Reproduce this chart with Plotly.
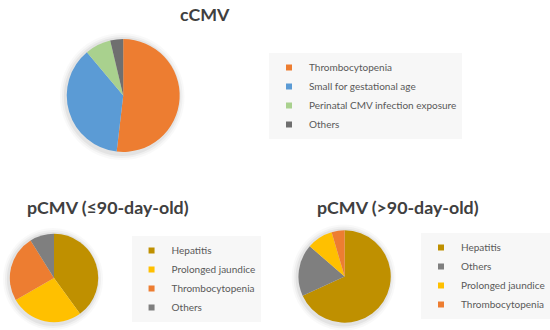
import plotly.graph_objects as go

# cCMV
c_labels = ["Thrombocytopenia", "Small for gestational age", "Perinatal CMV infection exposure", "Others"]
c_values = [14, 10, 2, 1]
c_colors = ["#ED7D31", "#5B9BD5", "#A9D18E", "#6F6F6F"]

# pCMV <=90 days
p1_labels = ["Hepatitis", "Prolonged jaundice", "Thrombocytopenia", "Others"]
p1_values = [18, 12, 11, 4]
p1_colors = ["#BF9000", "#FFC000", "#ED7D31", "#7F7F7F"]

# pCMV >90 days
p2_labels = ["Hepatitis", "Others", "Prolonged jaundice", "Thrombocytopenia"]
p2_values = [15, 4, 2, 1]
p2_colors = ["#BF9000", "#7F7F7F", "#FFC000", "#ED7D31"]

titles = ["cCMV", "pCMV (≤90-day-old)", "pCMV (>90-day-old)"]

W, H = 550, 330

# layout geometry (pixels)
pies = [
    dict(labels=c_labels, values=c_values, colors=c_colors, cx=125.5, cy=95.5, r=57.5, legend="legend"),
    dict(labels=p1_labels, values=p1_values, colors=p1_colors, cx=55, cy=278, r=45, legend="legend2"),
    dict(labels=p2_labels, values=p2_values, colors=p2_colors, cx=351, cy=276.5, r=47, legend="legend3"),
]


def dom(cx, cy, r):
    return dict(x=[(cx - r) / W, (cx + r) / W], y=[1 - (cy + r) / H, 1 - (cy - r) / H])


fig = go.Figure()
shapes = []
for p in pies:
    fig.add_trace(go.Pie(labels=p["labels"], values=p["values"], marker=dict(colors=p["colors"]),
                         sort=False, direction="clockwise", rotation=0, textinfo="none",
                         domain=dom(p["cx"], p["cy"], p["r"]), showlegend=False,
                         hoverinfo="label+percent"))
    # legend entries (small square keys)
    for lab, col in zip(p["labels"], p["colors"]):
        fig.add_trace(go.Scatter(x=[None], y=[None], mode="markers", name=lab,
                                 marker=dict(symbol="square", size=6, color=col),
                                 legend=p["legend"], hoverinfo="skip"))
    # soft shadow
    for k, op in [(6, 0.025), (4, 0.035), (2, 0.05)]:
        rr = p["r"] + k
        shapes.append(dict(type="circle", xref="paper", yref="paper", layer="below",
                           x0=(p["cx"] - rr - 1) / W, x1=(p["cx"] + rr - 1) / W,
                           y0=1 - (p["cy"] + rr + 1) / H, y1=1 - (p["cy"] - rr + 1) / H,
                           fillcolor="black", opacity=op, line=dict(width=0)))

leg_style = dict(bgcolor="#F7F7F7", font=dict(family="Lato", size=10, color="#595959"),
                 xanchor="left", yanchor="top", borderwidth=0, tracegroupgap=0)

ann_font = dict(family="Lato", size=17.8, color="#404040")

fig.update_layout(
    width=W, height=H, margin=dict(l=0, r=0, t=0, b=0),
    paper_bgcolor="white", plot_bgcolor="white",
    xaxis=dict(visible=False), yaxis=dict(visible=False),
    legend=dict(x=274 / W, y=1 - 53 / H, **leg_style),
    legend2=dict(x=134 / W, y=1 - 236 / H, **leg_style),
    legend3=dict(x=429 / W, y=1 - 233 / H, **leg_style),
    shapes=shapes,
    annotations=[
        dict(text="<b>%s</b>" % titles[0], x=209 / W, y=1 - 14 / H, xref="paper", yref="paper",
             showarrow=False, xanchor="center", yanchor="middle", font=ann_font),
        dict(text="<b>%s</b>" % titles[1], x=110 / W, y=1 - 207 / H, xref="paper", yref="paper",
             showarrow=False, xanchor="center", yanchor="middle", font=ann_font),
        dict(text="<b>%s</b>" % titles[2], x=405 / W, y=1 - 207 / H, xref="paper", yref="paper",
             showarrow=False, xanchor="center", yanchor="middle", font=ann_font),
    ],
)

fig.write_html("out.html", config={"displayModeBar": False},
               post_script="document.body.style.margin='0px';")
